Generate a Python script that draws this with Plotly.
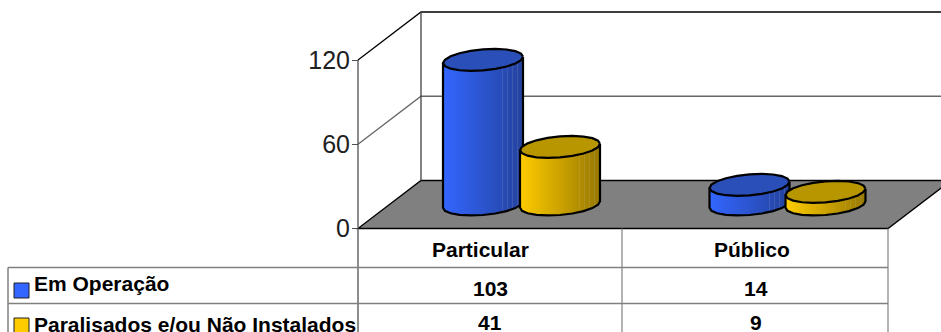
import numpy as np
import plotly.graph_objects as go

# Chart data
categories = ["Particular", "Público"]
series_names = ["Em Operação", "Paralisados e/ou Não Instalados"]
em_operacao = [103, 14]
paralisados = [41, 9]
value_ticks = [0, 60, 120]

W, H = 941, 332
ZERO_PX = 228.5      # pixel row of value 0 on the front plane
UNIT_PX = 1.404      # pixels per value unit
DEPTH_X, DEPTH_Y = 63, 48
SLOTS = [358, 622, 888]  # category boundaries along the front edge
SERIES_OFFSET = [(125, 127.5), (202, 203.5)]  # cylinder centre inside each category
BASE_LIFT = 24       # cylinder base centre behind the front edge, in pixels
RADIUS_X, RADIUS_Y, TILT = 40, 10.5, 3.2
TABLE_LEFT = 8
ROWS = [267.5, 303.5]
GREY = "#808080"


def val(px):
    """Pixel row to value units on the y axis."""
    return (ZERO_PX - px) / UNIT_PX


fig = go.Figure()
shapes = []


def seg(xs, rows, color, width=1, layer="below"):
    path = "M " + " L ".join(f"{x},{val(r)}" for x, r in zip(xs, rows))
    shapes.append(dict(type="path", path=path, xref="x", yref="y", layer=layer,
                       line=dict(color=color, width=width)))


# Floor, walls and gridlines
x0, xb = SLOTS[0], SLOTS[0] + DEPTH_X
xe = SLOTS[-1]
floor_row = ZERO_PX - DEPTH_Y
shapes.append(dict(
    type="path", xref="x", yref="y", layer="below", fillcolor=GREY,
    line=dict(color="black", width=1.3),
    path=f"M {x0},0 L {xb},{val(floor_row)} L {xe + DEPTH_X},{val(floor_row)} L {xe},0 Z",
))
for t in value_ticks[1:]:
    front = ZERO_PX - t * UNIT_PX
    back = front - DEPTH_Y
    color = "black" if t == value_ticks[-1] else "#666666"
    seg([x0, xb, xe + DEPTH_X], [front, back, back], color, 1.3)
top_front = ZERO_PX - value_ticks[-1] * UNIT_PX
seg([xb, xb], [top_front - DEPTH_Y, floor_row], "#404040", 1.3)
seg([x0, x0], [top_front, H], "#505050", 1.3)

# Data table grid
for r in ROWS:
    seg([TABLE_LEFT, xe], [r, r], GREY, 1.5)
seg([TABLE_LEFT, TABLE_LEFT], [ROWS[0], H], GREY, 1.5)
for s in SLOTS[1:]:
    seg([s, s], [ZERO_PX, H], GREY, 1.2)


def lerp(c1, c2, u):
    return tuple(a + (b - a) * u for a, b in zip(c1, c2))


def css(c):
    return "rgb({:.0f},{:.0f},{:.0f})".format(*c)


def cylinder(cx, value, light, dark, cap, xa, ya):
    base_val = BASE_LIFT / UNIT_PX
    # Side wall as one-pixel bars rising from the curved front of the base
    strips = np.arange(cx - RADIUS_X, cx + RADIUS_X) + 0.5
    u = (strips - strips[0]) / (strips[-1] - strips[0])
    ang = np.arccos(np.clip((strips - cx) / RADIUS_X, -1, 1))
    base = base_val + (-RADIUS_Y * np.sin(ang) + TILT * np.cos(ang)) / UNIT_PX
    colors = []
    for i, ui in enumerate(u):
        c = lerp(light, dark, ui)
        if ui > 0.72 and i % 5 == 0:
            c = lerp(c, (200, 200, 200), 0.15)
        colors.append(css(c))
    fig.add_trace(go.Bar(x=strips, y=[value] * len(strips), base=base, width=1.02,
                         marker=dict(color=colors, line=dict(width=0)),
                         xaxis=xa, yaxis=ya, hoverinfo="skip", showlegend=False))
    # Outline and top cap, with a coarse polygonal ellipse
    t = np.linspace(0, 2 * np.pi, 21)
    ex = RADIUS_X * np.cos(t)
    ey = (RADIUS_Y * np.sin(t) + TILT * np.cos(t)) / UNIT_PX
    front = np.linspace(0, np.pi, 11)
    fx = cx + RADIUS_X * np.cos(front)
    fy = base_val + (-RADIUS_Y * np.sin(front) + TILT * np.cos(front)) / UNIT_PX
    side_x = [fx[0], *fx, fx[-1]]
    side_y = [fy[0] + value, *fy, fy[-1] + value]
    fig.add_trace(go.Scatter(x=side_x, y=side_y, mode="lines",
                             line=dict(color="black", width=2.2),
                             xaxis=xa, yaxis=ya, hoverinfo="skip", showlegend=False))
    fig.add_trace(go.Scatter(x=cx + ex, y=base_val + value + ey, mode="lines",
                             fill="toself", fillcolor=cap,
                             line=dict(color="black", width=2.2),
                             xaxis=xa, yaxis=ya, hoverinfo="skip", showlegend=False))


BLUE = ((51, 102, 255), (36, 67, 159), "#2A4FB8")
GOLD = ((255, 204, 0), (153, 122, 0), "#B89600")
for i in range(len(categories)):
    cylinder(SLOTS[i] + SERIES_OFFSET[0][i], em_operacao[i], *BLUE, "x", "y")
for i in range(len(categories)):
    cylinder(SLOTS[i] + SERIES_OFFSET[1][i], paralisados[i], *GOLD, "x2", "y2")

# Table text
FONT = dict(family="Liberation Sans, Arial, sans-serif", size=21, color="black")
ann = []


def label(x, row, text, anchor="center"):
    ann.append(dict(x=x, y=val(row), text=f"<b>{text}</b>", xref="x", yref="y",
                    xanchor=anchor, yanchor="middle", showarrow=False, font=FONT,
                    borderpad=0))


header_x = [480, 751.5]
value_x = [490, 755.5]
for cx, name in zip(header_x, categories):
    label(cx, 249.5, name)
for i in range(len(categories)):
    label(value_x[i], 288.5, str(em_operacao[i]))
    label(value_x[i], 322.5, str(paralisados[i]))
label(33, 283, series_names[0], "left")
label(33, 324, series_names[1], "left")

# Legend keys in the first table column
for row, colour in ((283, "#3366FF"), (318, "#FFCC00")):
    shapes.append(dict(type="rect", xref="x", yref="y", layer="above",
                       x0=14, x1=29, y0=val(row), y1=val(row + 15),
                       fillcolor=colour, line=dict(color="#202020", width=1)))

y_range = [val(H), val(0)]
fig.update_layout(
    width=W, height=H, margin=dict(l=0, r=0, t=0, b=0, pad=0),
    paper_bgcolor="white", plot_bgcolor="white", barmode="overlay",
    showlegend=False, shapes=shapes, annotations=ann,
    xaxis=dict(range=[0, W], visible=False, fixedrange=True),
    yaxis=dict(range=y_range, anchor="free", position=SLOTS[0] / W,
               tickvals=value_ticks, ticktext=[str(v) for v in value_ticks],
               ticks="outside", ticklen=6, tickcolor="#505050", tickwidth=1,
               ticklabelstandoff=-3,
               showgrid=False, zeroline=False, showline=False, fixedrange=True,
               tickfont=dict(family="Liberation Sans, Arial, sans-serif", size=25,
                             color="#202020")),
    xaxis2=dict(range=[0, W], visible=False, overlaying="x", fixedrange=True),
    yaxis2=dict(range=y_range, visible=False, overlaying="y", fixedrange=True),
)
fig.write_html("out.html", config=dict(displayModeBar=False))
